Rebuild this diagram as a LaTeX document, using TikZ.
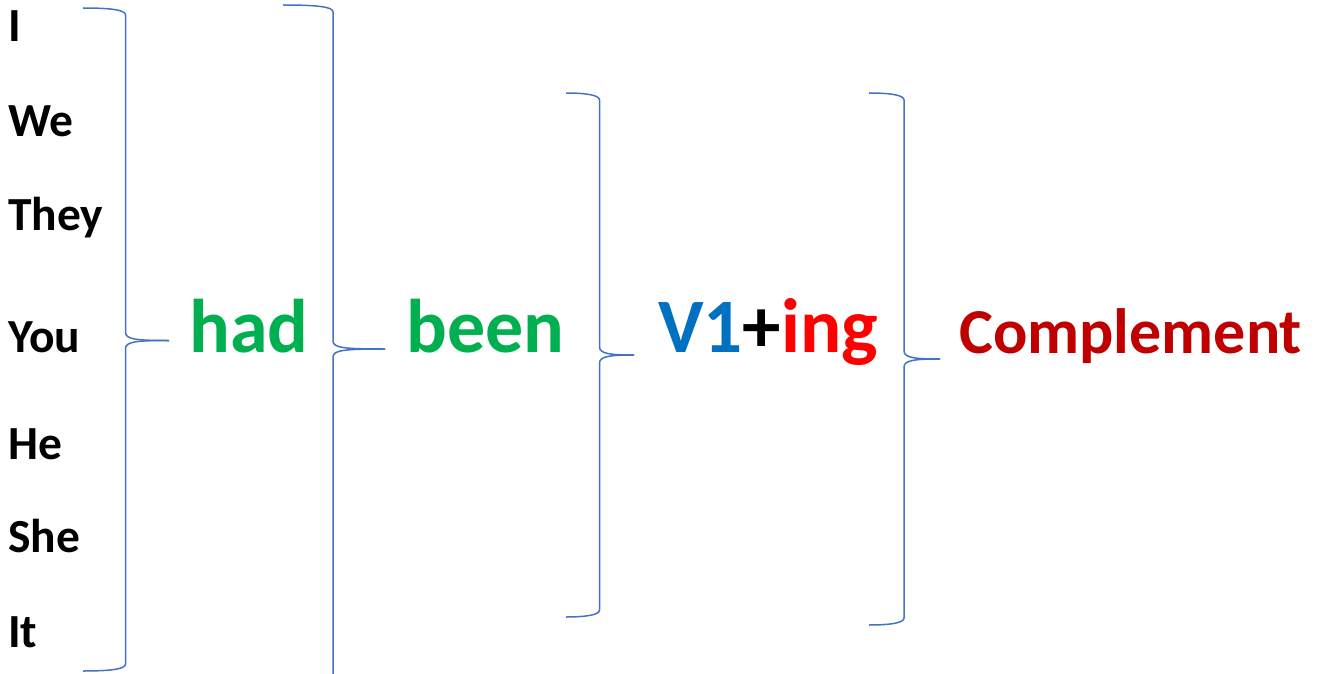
\documentclass[tikz,border=0pt]{standalone}
\usepackage{fontspec}
\setmainfont{Carlito}
\definecolor{wgreen}{HTML}{00B050}
\definecolor{wblue}{HTML}{0070C0}
\definecolor{wred}{HTML}{FF0000}
\definecolor{wdark}{HTML}{C00000}
\definecolor{brace}{HTML}{4472C4}
\tikzset{
  pron/.style={anchor=base west, inner sep=0pt, font=\fontsize{47.5}{47.5}\selectfont\bfseries},
  big/.style={anchor=base west, inner sep=0pt, font=\fontsize{76}{76}\selectfont\bfseries},
  bracestyle/.style={draw=brace, line width=1.5pt, line join=round},
}
% brace: #1 x of free ends, #2 x of vertical, #3 top y, #4 middle y, #5 bottom y, #6 tip x
\newcommand{\wbrace}[6]{%
  \draw[bracestyle] (#1,#3) .. controls (#2-14,#3) and (#2,#3+2) .. (#2,#3+7)
    -- (#2,#4-8) .. controls (#2,#4-1) and (#2+12,#4) .. (#6,#4);
  \draw[bracestyle] (#6,#4) .. controls (#2+12,#4) and (#2,#4+1) .. (#2,#4+8)
    -- (#2,#5-7) .. controls (#2,#5-2) and (#2-14,#5) .. (#1,#5);
}
\begin{document}
\begin{tikzpicture}[x=1pt,y=-1pt]
\clip (0,0) rectangle (1317,674);
\fill[white] (0,0) rectangle (1317,674);
% pronouns
\node[pron] (pI) at (8,42) {I};
\node[pron] (pWe) at (8,137) {We};
\node[pron] (pThey) at (8,230) {They};
\node[pron] (pYou) at (8,352.5) {You};
\node[pron] (pHe) at (8,459) {He};
\node[pron] (pShe) at (8,552) {She};
\node[pron] (pIt) at (8,647) {It};
% main words
\node[big, text=wgreen] (had) at (189,352) {had};
\node[big, text=wgreen] (been) at (406,352) {been};
\node[big, font=\fontsize{77}{77}\selectfont\bfseries] (ving) at (658,352) {\textcolor{wblue}{V1}+\textcolor{wred}{ing}};
\node[big, font=\fontsize{64}{64}\selectfont\bfseries, text=wdark] (comp) at (959,353) {Complement};
% braces
\wbrace{83}{125.5}{8}{340.5}{671}{169}
\wbrace{283}{333}{5}{349}{693}{385}
\wbrace{566}{599.5}{93}{355}{617}{634}
\wbrace{869}{904}{93}{359}{625}{940}
\end{tikzpicture}
\end{document}
